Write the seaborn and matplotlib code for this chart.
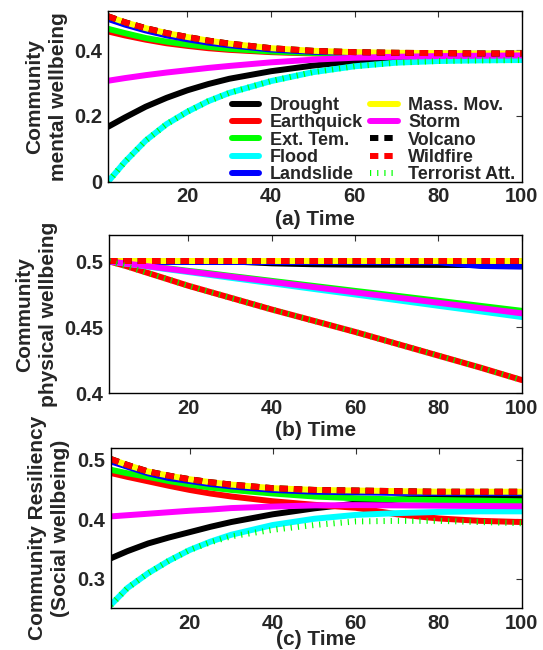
import numpy as np
import pandas as pd
import matplotlib
matplotlib.use('Agg')
import matplotlib.pyplot as plt
import seaborn as sns

T = [1, 5, 10, 15, 20, 25, 30, 40, 50, 60, 70, 80, 90, 100]

hazards = ['Drought', 'Earthquick', 'Ext. Tem.', 'Flood', 'Landslide',
           'Mass. Mov.', 'Storm', 'Volcano', 'Wildfire', 'Terrorist Att.']
colors = ['#000000', '#ff0000', '#00ff00', '#00ffff', '#0000ff',
          '#ffff00', '#ff00ff', '#000000', '#ff0000', '#00ff00']

# (a) mental wellbeing
mental_drought = [0.167, 0.195, 0.228, 0.255, 0.278, 0.297, 0.313, 0.336, 0.353, 0.366, 0.374, 0.379, 0.382, 0.384]
mental_earthquick = [0.457, 0.445, 0.432, 0.421, 0.413, 0.406, 0.401, 0.394, 0.390, 0.388, 0.387, 0.386, 0.386, 0.386]
mental_exttem = [0.465, 0.452, 0.437, 0.426, 0.417, 0.410, 0.404, 0.396, 0.391, 0.388, 0.387, 0.386, 0.386, 0.386]
mental_flood = [0.0, 0.060, 0.125, 0.175, 0.213, 0.245, 0.270, 0.306, 0.333, 0.351, 0.362, 0.367, 0.369, 0.370]
mental_landslide = [0.495, 0.478, 0.460, 0.445, 0.433, 0.423, 0.415, 0.402, 0.395, 0.392, 0.390, 0.389, 0.389, 0.389]
mental_massmov = [0.503, 0.485, 0.467, 0.452, 0.440, 0.429, 0.420, 0.406, 0.398, 0.394, 0.392, 0.391, 0.390, 0.390]
mental_storm = [0.307, 0.315, 0.324, 0.332, 0.339, 0.346, 0.352, 0.363, 0.371, 0.377, 0.380, 0.382, 0.383, 0.384]
mental_volcano = mental_massmov
mental_wildfire = mental_massmov
mental_terrorist = mental_flood

# (b) physical wellbeing
phys_drought = [0.5, 0.5, 0.5, 0.5, 0.5, 0.5, 0.5, 0.4985, 0.4978, 0.4975, 0.4974, 0.4973, 0.4972, 0.4972]
phys_earthquick = [0.5, 0.4965, 0.4915, 0.4865, 0.4815, 0.477, 0.4725, 0.4635, 0.455, 0.4465, 0.4375, 0.4285, 0.4195, 0.410]
phys_exttem = [0.5, 0.4985, 0.4966, 0.4947, 0.4928, 0.491, 0.489, 0.4852, 0.4814, 0.4776, 0.4739, 0.4701, 0.4663, 0.4625]
phys_flood = [0.5, 0.4983, 0.4962, 0.494, 0.4919, 0.4898, 0.4876, 0.4834, 0.4791, 0.4749, 0.4706, 0.4663, 0.4621, 0.4578]
phys_landslide = [0.5, 0.4995, 0.4995, 0.4995, 0.4995, 0.4995, 0.4995, 0.4995, 0.4995, 0.4995, 0.4995, 0.4993, 0.4965, 0.496]
phys_massmov = [0.5, 0.5, 0.5, 0.5, 0.5, 0.5, 0.5, 0.5, 0.5, 0.5, 0.5, 0.5, 0.5, 0.5]
phys_storm = [0.5, 0.4984, 0.4964, 0.4944, 0.4924, 0.4904, 0.4885, 0.4845, 0.4805, 0.4765, 0.4726, 0.4686, 0.4646, 0.4606]
phys_volcano = phys_massmov
phys_wildfire = phys_massmov
phys_terrorist = phys_earthquick

# (c) social wellbeing
social_drought = [0.334, 0.346, 0.359, 0.369, 0.378, 0.387, 0.395, 0.408, 0.418, 0.426, 0.433, 0.436, 0.437, 0.438]
social_earthquick = [0.4775, 0.471, 0.4635, 0.456, 0.449, 0.443, 0.438, 0.430, 0.424, 0.419, 0.408, 0.401, 0.397, 0.395]
social_exttem = [0.483, 0.477, 0.471, 0.464, 0.458, 0.453, 0.449, 0.443, 0.438, 0.435, 0.433, 0.432, 0.431, 0.430]
social_flood = [0.2556, 0.284, 0.309, 0.330, 0.348, 0.362, 0.3736, 0.390, 0.4005, 0.407, 0.410, 0.412, 0.413, 0.413]
social_landslide = [0.497, 0.488, 0.477, 0.469, 0.464, 0.459, 0.455, 0.449, 0.446, 0.445, 0.444, 0.444, 0.444, 0.444]
social_massmov = [0.501, 0.491, 0.480, 0.473, 0.467, 0.462, 0.458, 0.452, 0.449, 0.448, 0.447, 0.446, 0.446, 0.446]
social_storm = [0.4045, 0.4065, 0.409, 0.4115, 0.414, 0.416, 0.4185, 0.421, 0.423, 0.4235, 0.423, 0.4225, 0.422, 0.4215]
social_volcano = social_massmov
social_wildfire = social_massmov
social_terrorist = [0.2556, 0.284, 0.309, 0.330, 0.348, 0.361, 0.371, 0.382, 0.390, 0.396, 0.397, 0.397, 0.395, 0.393]

panels = [
    [mental_drought, mental_earthquick, mental_exttem, mental_flood, mental_landslide,
     mental_massmov, mental_storm, mental_volcano, mental_wildfire, mental_terrorist],
    [phys_drought, phys_earthquick, phys_exttem, phys_flood, phys_landslide,
     phys_massmov, phys_storm, phys_volcano, phys_wildfire, phys_terrorist],
    [social_drought, social_earthquick, social_exttem, social_flood, social_landslide,
     social_massmov, social_storm, social_volcano, social_wildfire, social_terrorist],
]

sns.set_theme(style='white')
plt.rcParams['font.family'] = ['Liberation Sans', 'DejaVu Sans']
plt.rcParams['font.weight'] = 'bold'

palette = dict(zip(hazards, colors))
dash_map = {h: '' for h in hazards}
dash_map['Volcano'] = (1.4, 1.0)
dash_map['Wildfire'] = (1.4, 1.0)
dash_map['Terrorist Att.'] = (0.2, 1.0)

fig = plt.figure(figsize=(5.43, 6.5), dpi=100)
positions = [[0.199, 0.7205, 0.762, 0.263],
             [0.201, 0.395, 0.760, 0.2435],
             [0.204, 0.0642, 0.757, 0.247]]
ylabels = ['Community\nmental wellbeing', 'Community\nphysical wellbeing',
           'Community Resiliency\n(Social wellbeing)']
xlabels = ['(a) Time', '(b) Time', '(c) Time']
ylims = [(0, 0.52), (0.4, 0.52), (0.25, 0.52)]
yticks = [([0, 0.2, 0.4], ['0', '0.2', '0.4']),
          ([0.4, 0.45, 0.5], ['0.4', '0.45', '0.5']),
          ([0.3, 0.4, 0.5], ['0.3', '0.4', '0.5'])]
xpads = [2.5, 2.5, -2]

axes = []
for i in range(3):
    ax = fig.add_axes(positions[i])
    rows = []
    for h, vals in zip(hazards, panels[i]):
        for t, v in zip(T, vals):
            rows.append({'t': t, 'value': v, 'hazard': h})
    df = pd.DataFrame(rows)
    sns.lineplot(data=df, x='t', y='value', hue='hazard', style='hazard',
                 hue_order=hazards, style_order=hazards, palette=palette,
                 dashes=dash_map, linewidth=4.3, estimator=None, sort=False,
                 legend=False, ax=ax)
    ax.set_xlim(1, 100)
    ax.set_ylim(*ylims[i])
    ax.set_xticks([20, 40, 60, 80, 100])
    ax.set_xticklabels(['20', '40', '60', '80', '100'])
    ax.set_yticks(yticks[i][0])
    ax.set_yticklabels(yticks[i][1])
    ax.tick_params(direction='in', top=True, right=True, length=4, width=0.8,
                   color='#333333', labelsize=14.5, pad=4)
    for lab in ax.get_xticklabels() + ax.get_yticklabels():
        lab.set_fontweight('bold')
    for sp in ax.spines.values():
        sp.set_color('black')
        sp.set_linewidth(1.0)
    ax.set_xlabel(xlabels[i], fontsize=15, fontweight='bold', labelpad=xpads[i])
    ax.set_ylabel(ylabels[i], fontsize=15, fontweight='bold', linespacing=1.3, labelpad=5)
    axes.append(ax)

leg = axes[0].legend(handles=axes[0].get_lines(), labels=hazards, ncol=2,
                     loc='lower left', bbox_to_anchor=(0.3, -0.01), frameon=False,
                     prop={'weight': 'bold', 'size': 13}, handlelength=1.5,
                     handletextpad=0.6, columnspacing=0.4, labelspacing=0.02,
                     borderpad=0, borderaxespad=0)

fig.savefig('out.png', dpi=100)
